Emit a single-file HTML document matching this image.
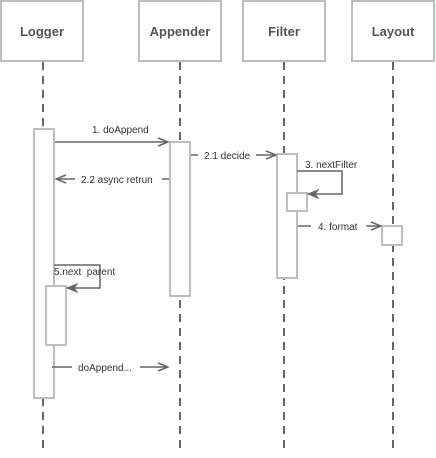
<!DOCTYPE html>
<html><head><style>body{margin:0;background:#fff}</style></head><body>
<svg width="436" height="453" viewBox="0 0 436 453" xmlns="http://www.w3.org/2000/svg" font-family="Liberation Sans, sans-serif">
<defs><marker id="a" markerWidth="12" markerHeight="10" refX="11" refY="5" orient="auto" markerUnits="userSpaceOnUse"><path d="M1,1 L11,5 L1,9" fill="none" stroke="#666" stroke-width="1.5"/></marker>
<marker id="f" markerWidth="12" markerHeight="10" refX="11" refY="5" orient="auto" markerUnits="userSpaceOnUse"><path d="M1,1 L11,5 L1,9 L4,5Z" fill="#666" stroke="#666"/></marker></defs>
<g stroke="#666" stroke-width="2" stroke-dasharray="8,6">
<line x1="43" y1="62" x2="43" y2="453"/><line x1="180" y1="62" x2="180" y2="453"/>
<line x1="284" y1="62" x2="284" y2="453"/><line x1="393" y1="62" x2="393" y2="453"/></g>
<g fill="#fff" stroke="#bbbfc2" stroke-width="2">
<rect x="1" y="1" width="82" height="60"/><rect x="139" y="1" width="82" height="60"/>
<rect x="243" y="1" width="82" height="60"/><rect x="352" y="1" width="82" height="60"/>
<rect x="34" y="129" width="20" height="269"/><rect x="170" y="142" width="20" height="154"/>
<rect x="277" y="154" width="20" height="124"/><rect x="287" y="193" width="20" height="18"/>
<rect x="382" y="226" width="20" height="19"/><rect x="46" y="286" width="20" height="59"/></g>
<g font-size="13" font-weight="bold" fill="#555" text-anchor="middle">
<text x="42" y="36">Logger</text><text x="180" y="36">Appender</text><text x="284" y="36">Filter</text><text x="393" y="36">Layout</text></g>
<g stroke="#666" stroke-width="1.5" fill="none">
<line x1="55" y1="142" x2="168" y2="142" marker-end="url(#a)"/>
<line x1="191" y1="155" x2="198" y2="155"/><line x1="256" y1="155" x2="276" y2="155" marker-end="url(#a)"/>
<line x1="169" y1="179" x2="162" y2="179"/><line x1="75" y1="179" x2="56" y2="179" marker-end="url(#a)"/>
<polyline points="297,171 342,171 342,194 308,194" marker-end="url(#f)"/>
<line x1="298" y1="226" x2="311" y2="226"/><line x1="366" y1="226" x2="381" y2="226" marker-end="url(#a)"/>
<polyline points="54,265 100,265 100,288 67,288" marker-end="url(#f)"/>
<line x1="52" y1="367" x2="72" y2="367"/><line x1="140" y1="367" x2="168" y2="367" marker-end="url(#a)"/></g>
<g font-size="10" fill="#333">
<text x="92" y="133">1. doAppend</text><text x="204" y="159">2.1 decide</text>
<text x="81" y="183">2.2 async retrun</text><text x="305" y="168">3. nextFilter</text>
<text x="318" y="230">4. format</text><text x="54" y="275">5.next&#160; parent</text>
<text x="78" y="371">doAppend...</text></g>
</svg>
</body></html>
